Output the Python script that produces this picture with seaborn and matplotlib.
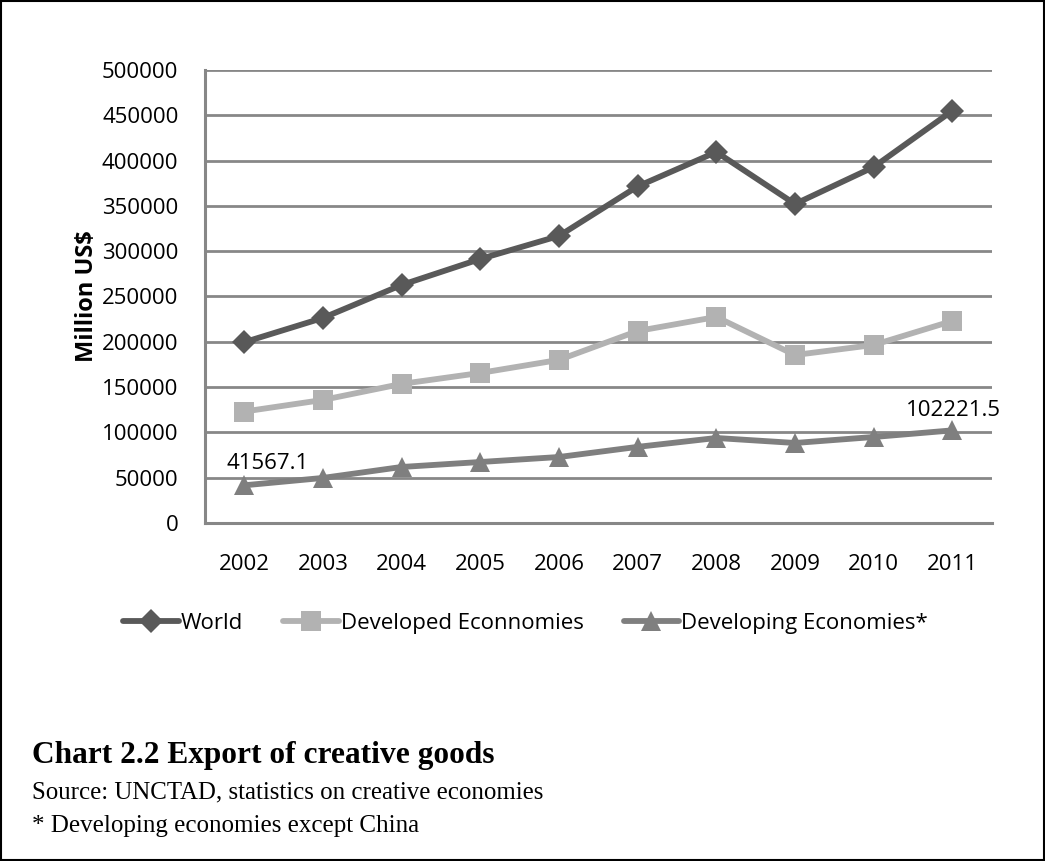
import matplotlib
matplotlib.use("Agg")
import matplotlib.pyplot as plt
import seaborn as sns
import pandas as pd
from matplotlib.patches import Rectangle

years = [2002, 2003, 2004, 2005, 2006, 2007, 2008, 2009, 2010, 2011]
world = [199500, 226300, 262700, 291400, 316800, 371500, 409500, 352100, 392900, 455000]
developed = [123000, 135800, 153500, 165600, 180000, 211900, 227400, 185400, 196500, 223000]
developing = [41567.1, 49700, 61800, 67300, 72800, 84000, 93800, 88300, 94900, 102221.5]
series_names = ["World", "Developed Econnomies", "Developing Economies*"]
y_ticks = list(range(0, 500001, 50000))

sns.set_theme(style="white")
plt.rcParams["font.family"] = ["Open Sans", "DejaVu Sans"]
plt.rcParams["text.color"] = "black"
plt.rcParams["axes.labelcolor"] = "black"
plt.rcParams["xtick.labelcolor"] = "black"
plt.rcParams["ytick.labelcolor"] = "black"

FS = 16
GRID = "#878787"

fig = plt.figure(figsize=(10.45, 8.61), dpi=100)
ax = fig.add_axes([0.196, 0.3926, 0.753, 0.5261])

pos = list(range(len(years)))
styles = [
    (world, "#595959", "D", 12),
    (developed, "#b2b2b2", "s", 15),
    (developing, "#7f7f7f", "^", 15),
]
for name, (vals, col, mk, ms) in zip(series_names, styles):
    df = pd.DataFrame({"x": pos, "y": vals})
    sns.lineplot(data=df, x="x", y="y", ax=ax, color=col, linewidth=4.2,
                 marker=mk, markersize=ms, markeredgewidth=0, label=name, zorder=3)

ax.set_xlim(-0.5, len(years) - 0.5)
ax.set_ylim(0, 500000)
ax.set_yticks(y_ticks)
ax.set_yticklabels([str(t) for t in y_ticks], fontsize=FS)
ax.set_xticks(pos)
ax.set_xticklabels([str(y) for y in years], fontsize=FS)
ax.set_xticks([p - 0.5 for p in pos] + [len(years) - 0.5], minor=True)
ax.tick_params(axis="x", which="major", length=0, pad=22)
ax.tick_params(axis="x", which="minor", length=6, width=2, color=GRID, direction="out")
ax.tick_params(axis="y", length=6, width=2, color=GRID, direction="out", pad=13)
ax.grid(axis="y", color=GRID, linewidth=2)
ax.set_axisbelow(True)
for side in ["top", "right"]:
    ax.spines[side].set_visible(False)
for side in ["left", "bottom"]:
    ax.spines[side].set_color(GRID)
    ax.spines[side].set_linewidth(2.2)
ax.set_xlabel("")
ax.set_ylabel("Million US$", fontsize=17, fontweight="bold", labelpad=2)

# value labels on first and last developing-economy points
ax.annotate(str(developing[0]), (pos[0], developing[0]), xytext=(17, 16),
            textcoords="offset points", fontsize=FS, ha="center", va="center")
ax.annotate(str(developing[-1]), (pos[-1], developing[-1]), xytext=(1, 14),
            textcoords="offset points", fontsize=FS, ha="center", va="center",
            annotation_clip=False)

ax.get_legend().remove()
handles, labels = ax.get_legend_handles_labels()
fig.legend(handles, labels, loc="center", bbox_to_anchor=(0.503, 0.2764), ncol=3,
           frameon=False, fontsize=FS, handlelength=2.5, handletextpad=0.1,
           columnspacing=1.8)

serif = ["Liberation Serif", "DejaVu Serif"]
fig.text(0.031, 1 - 756 / 861, "Chart 2.2 Export of creative goods", family=serif,
         fontsize=22.6, fontweight="bold", va="center")
fig.text(0.031, 1 - 792 / 861, "Source: UNCTAD, statistics on creative economies",
         family=serif, fontsize=17.9, va="center")
fig.text(0.031, 1 - 826 / 861, "* Developing economies except China",
         family=serif, fontsize=18, va="center")

fig.patches.append(Rectangle((0.001, 0.001), 0.998, 0.998, transform=fig.transFigure,
                             fill=False, edgecolor="black", linewidth=1.5))

fig.savefig("out.png", dpi=100)
